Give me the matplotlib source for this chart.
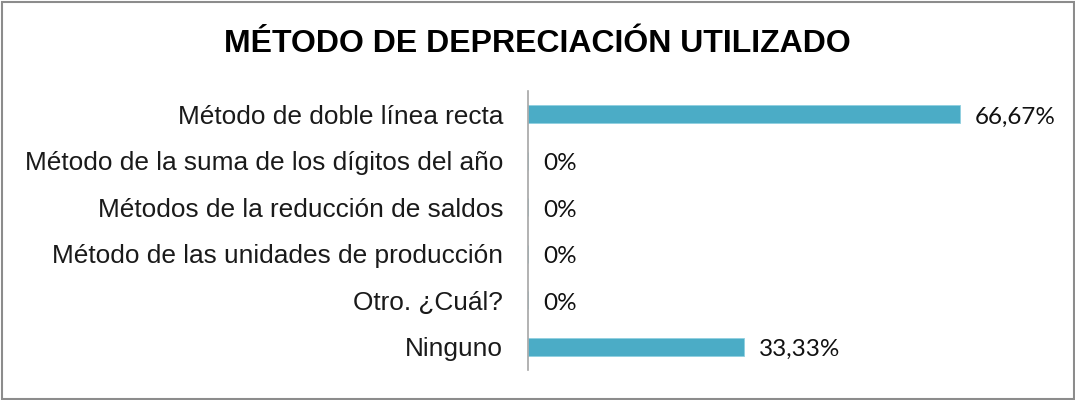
import matplotlib
matplotlib.use("Agg")
import matplotlib.pyplot as plt
from matplotlib.patches import Rectangle

categories = [
    "Método de doble línea recta",
    "Método de la suma de los dígitos del año",
    "Métodos de la reducción de saldos",
    "Método de las unidades de producción",
    "Otro. ¿Cuál?",
    "Ninguno",
]
values = [66.67, 0, 0, 0, 0, 33.33]
value_labels = ["66,67%", "0%", "0%", "0%", "0%", "33,33%"]
title = "MÉTODO DE DEPRECIACIÓN UTILIZADO"

W, H = 1075, 400
fig = plt.figure(figsize=(W / 100, H / 100), dpi=100)
fig.patch.set_facecolor("white")

ax = fig.add_axes([528 / W, 1 - 370 / H, (1046 - 528) / W, (370 - 91) / H])
y = list(range(len(categories)))
ax.barh(y, values, height=0.39, color="#4BACC6", edgecolor="#8FD0E0", linewidth=0.6)
ax.set_ylim(len(categories) - 0.5, -0.5)
ax.set_xlim(0, 80)
ax.set_yticks(y)
ax.set_yticklabels(categories, family="Liberation Sans", fontsize=18.9, color="#1a1a1a")
ax.tick_params(axis="y", length=0, pad=18)
ax.set_xticks([])
for s in ["top", "right", "bottom"]:
    ax.spines[s].set_visible(False)
ax.spines["left"].set_color("#A6A6A6")
ax.spines["left"].set_linewidth(1.2)

for yi, v, lab in zip(y, values, value_labels):
    ax.annotate(lab, xy=(v, yi), xytext=(15, -3), textcoords="offset pixels",
                va="center", ha="left", fontsize=17.5, family="Lato", color="#111111")

fig.text(0.5, 1 - 44 / H, title, ha="center", va="center", fontsize=23,
         fontweight="bold", family="Liberation Sans", color="black")

fig.patches.append(Rectangle((1.5 / W, 1.5 / H), (W - 3) / W, (H - 3) / H,
                             transform=fig.transFigure, fill=False,
                             edgecolor="#8C8C8C", linewidth=1.5))

fig.savefig("out.png", dpi=100)
